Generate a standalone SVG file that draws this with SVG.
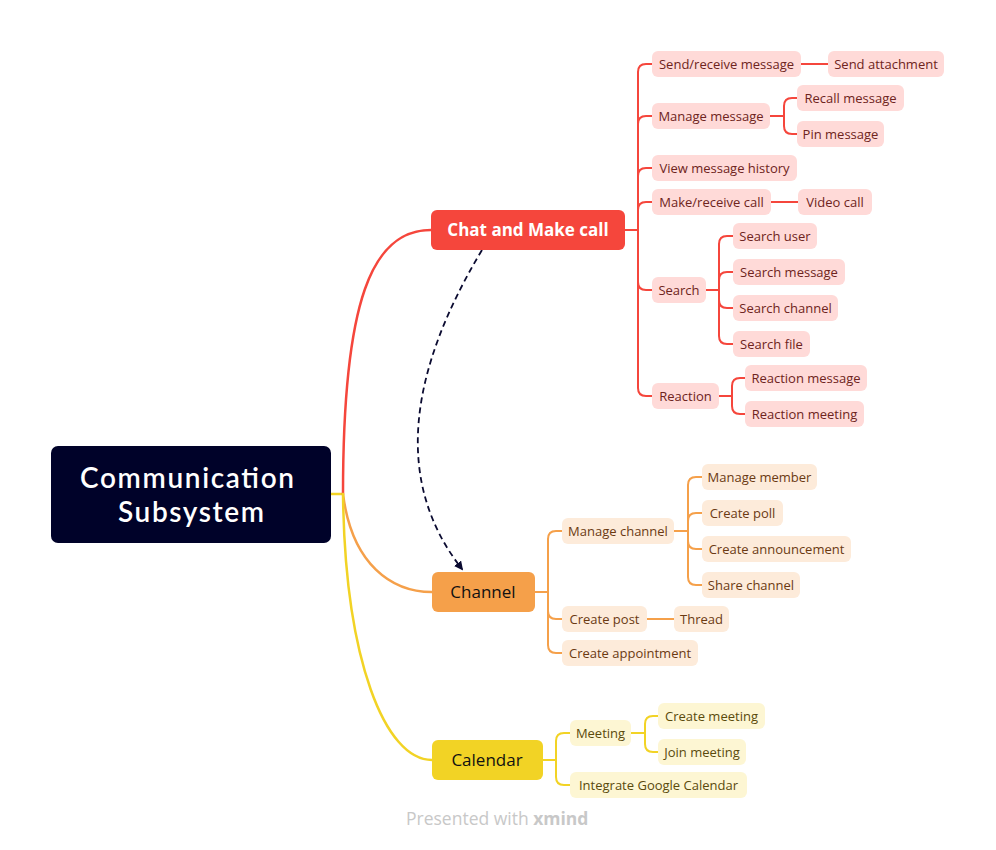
<svg xmlns="http://www.w3.org/2000/svg" width="996" height="850" viewBox="0 0 996 850">
<defs>
<style>
text{font-family:"Open Sans","Noto Sans","Liberation Sans",sans-serif;}
.c{fill:none;stroke-width:2;stroke-linecap:round;stroke-linejoin:round}
.b{stroke-width:2.5}
.r{stroke:#F5463C}.o{stroke:#F5A04A}.y{stroke:#F2D325}
.rn rect{fill:#FFDAD8}.rn text{fill:#6E2420;font-size:13px;text-anchor:middle}
.on rect{fill:#FDEBDA}.on text{fill:#6B3A12;font-size:13px;text-anchor:middle}
.yn rect{fill:#FDF6D3}.yn text{fill:#5A4A0C;font-size:13px;text-anchor:middle}
.m text{font-size:17px;text-anchor:middle}
.rt{font-family:Lato,"Open Sans",sans-serif;font-size:28px;fill:#fff;font-weight:600}
</style>
<marker id="ah" viewBox="0 0 10 10" refX="8" refY="5" markerWidth="9" markerHeight="9" orient="auto" markerUnits="userSpaceOnUse">
<path d="M0,0 L10,5 L0,10 Z" fill="#0A0A30"/>
</marker>
</defs>
<rect width="996" height="850" fill="#fff"/>
<g id="connectors">
<path class="c b y" d="M331,494 H343"/>
<path class="c b r" d="M343,494 C343,300 372,230 431,230"/>
<path class="c b o" d="M343,494 C352,565 392,592 432,592"/>
<path class="c b y" d="M343,494 C345,660 385,760 432,760"/>
<path class="c r" d="M625,230 H638 M638,230 V72 Q638,64 646,64 H652 M638,230 V124 Q638,116 646,116 H652 M638,230 V176 Q638,168 646,168 H652 M638,230 V210 Q638,202 646,202 H652 M638,230 V282 Q638,290 646,290 H652 M638,230 V388 Q638,396 646,396 H652"/>
<path class="c r" d="M801,64 H828"/>
<path class="c r" d="M770,116 H784 M784,116 V106 Q784,98 792,98 H797 M784,116 V126 Q784,134 792,134 H797"/>
<path class="c r" d="M771,202 H798"/>
<path class="c r" d="M706,290 H719 M719,290 V244 Q719,236 727,236 H733 M719,290 V280 Q719,272 727,272 H733 M719,290 V300 Q719,308 727,308 H733 M719,290 V336 Q719,344 727,344 H733"/>
<path class="c r" d="M719,396 H732 M732,396 V386 Q732,378 740,378 H745 M732,396 V406 Q732,414 740,414 H745"/>
<path class="c o" d="M535,592 H548 M548,592 V539 Q548,531 556,531 H562 M548,592 V611 Q548,619 556,619 H562 M548,592 V645 Q548,653 556,653 H562"/>
<path class="c o" d="M674,531 H688 M688,531 V485 Q688,477 696,477 H702 M688,531 V521 Q688,513 696,513 H702 M688,531 V541 Q688,549 696,549 H702 M688,531 V577 Q688,585 696,585 H702"/>
<path class="c o" d="M647,619 H674"/>
<path class="c y" d="M543,760 H556 M556,760 V741 Q556,733 564,733 H570 M556,760 V777 Q556,785 564,785 H570"/>
<path class="c y" d="M631,733 H645 M645,733 V724 Q645,716 653,716 H658 M645,733 V744 Q645,752 653,752 H658"/>
<path d="M482,250 C410,370 392,480 462,569" fill="none" stroke="#0A0A30" stroke-width="1.8" stroke-dasharray="6,4" marker-end="url(#ah)"/>
</g>
<g id="root">
<rect x="51" y="446" width="280" height="97" rx="7" fill="#000229"/>
<text class="rt" x="80" y="488" textLength="214" lengthAdjust="spacing">Communication</text>
<text class="rt" x="118" y="522" textLength="146" lengthAdjust="spacing">Subsystem</text>
</g>
<g id="chat" class="m"><rect x="431" y="210" width="194" height="40" rx="6" fill="#F5463C"/><text x="528" y="236" fill="#fff" font-weight="bold">Chat and Make call</text></g>
<g id="channel" class="m"><rect x="432" y="572" width="103" height="40" rx="6" fill="#F5A04A"/><text x="483" y="598" fill="#111">Channel</text></g>
<g id="calendar" class="m"><rect x="432" y="740" width="111" height="40" rx="6" fill="#F2D325"/><text x="487" y="766" fill="#111">Calendar</text></g>
<g id="n-send" class="rn"><rect x="652" y="51" width="149" height="26" rx="6"/><text x="726.5" y="68.5">Send/receive message</text></g>
<g id="n-attach" class="rn"><rect x="828" y="51" width="116" height="26" rx="6"/><text x="886" y="68.5">Send attachment</text></g>
<g id="n-manage-msg" class="rn"><rect x="652" y="103" width="118" height="26" rx="6"/><text x="711" y="120.5">Manage message</text></g>
<g id="n-recall" class="rn"><rect x="797" y="85" width="107" height="26" rx="6"/><text x="850.5" y="102.5">Recall message</text></g>
<g id="n-pin" class="rn"><rect x="797" y="121" width="87" height="26" rx="6"/><text x="840.5" y="138.5">Pin message</text></g>
<g id="n-history" class="rn"><rect x="652" y="155" width="145" height="26" rx="6"/><text x="724.5" y="172.5">View message history</text></g>
<g id="n-call" class="rn"><rect x="652" y="189" width="119" height="26" rx="6"/><text x="711.5" y="206.5">Make/receive call</text></g>
<g id="n-video" class="rn"><rect x="798" y="189" width="74" height="26" rx="6"/><text x="835" y="206.5">Video call</text></g>
<g id="n-search" class="rn"><rect x="652" y="277" width="54" height="26" rx="6"/><text x="679" y="294.5">Search</text></g>
<g id="n-suser" class="rn"><rect x="733" y="223" width="84" height="26" rx="6"/><text x="775" y="240.5">Search user</text></g>
<g id="n-smsg" class="rn"><rect x="733" y="259" width="112" height="26" rx="6"/><text x="789" y="276.5">Search message</text></g>
<g id="n-schan" class="rn"><rect x="733" y="295" width="105" height="26" rx="6"/><text x="785.5" y="312.5">Search channel</text></g>
<g id="n-sfile" class="rn"><rect x="733" y="331" width="77" height="26" rx="6"/><text x="771.5" y="348.5">Search file</text></g>
<g id="n-reaction" class="rn"><rect x="652" y="383" width="67" height="26" rx="6"/><text x="685.5" y="400.5">Reaction</text></g>
<g id="n-rmsg" class="rn"><rect x="745" y="365" width="122" height="26" rx="6"/><text x="806" y="382.5">Reaction message</text></g>
<g id="n-rmeet" class="rn"><rect x="745" y="401" width="119" height="26" rx="6"/><text x="804.5" y="418.5">Reaction meeting</text></g>
<g id="n-manage-chan" class="on"><rect x="562" y="518" width="112" height="26" rx="6"/><text x="618" y="535.5">Manage channel</text></g>
<g id="n-member" class="on"><rect x="702" y="464" width="115" height="26" rx="6"/><text x="759.5" y="481.5">Manage member</text></g>
<g id="n-poll" class="on"><rect x="702" y="500" width="81" height="26" rx="6"/><text x="742.5" y="517.5">Create poll</text></g>
<g id="n-announce" class="on"><rect x="702" y="536" width="149" height="26" rx="6"/><text x="776.5" y="553.5">Create announcement</text></g>
<g id="n-share" class="on"><rect x="702" y="572" width="98" height="26" rx="6"/><text x="751" y="589.5">Share channel</text></g>
<g id="n-post" class="on"><rect x="562" y="606" width="85" height="26" rx="6"/><text x="604.5" y="623.5">Create post</text></g>
<g id="n-thread" class="on"><rect x="674" y="606" width="55" height="26" rx="6"/><text x="701.5" y="623.5">Thread</text></g>
<g id="n-appt" class="on"><rect x="562" y="640" width="136" height="26" rx="6"/><text x="630" y="657.5">Create appointment</text></g>
<g id="n-meeting" class="yn"><rect x="570" y="720" width="61" height="26" rx="6"/><text x="600.5" y="737.5">Meeting</text></g>
<g id="n-cmeet" class="yn"><rect x="658" y="703" width="107" height="26" rx="6"/><text x="711.5" y="720.5">Create meeting</text></g>
<g id="n-jmeet" class="yn"><rect x="658" y="739" width="88" height="26" rx="6"/><text x="702" y="756.5">Join meeting</text></g>
<g id="n-google" class="yn"><rect x="570" y="772" width="177" height="26" rx="6"/><text x="658.5" y="789.5">Integrate Google Calendar</text></g>
<text x="406" y="825" font-size="17.5" fill="#C8C8C8">Presented with <tspan font-weight="bold">xmind</tspan></text>
</svg>
